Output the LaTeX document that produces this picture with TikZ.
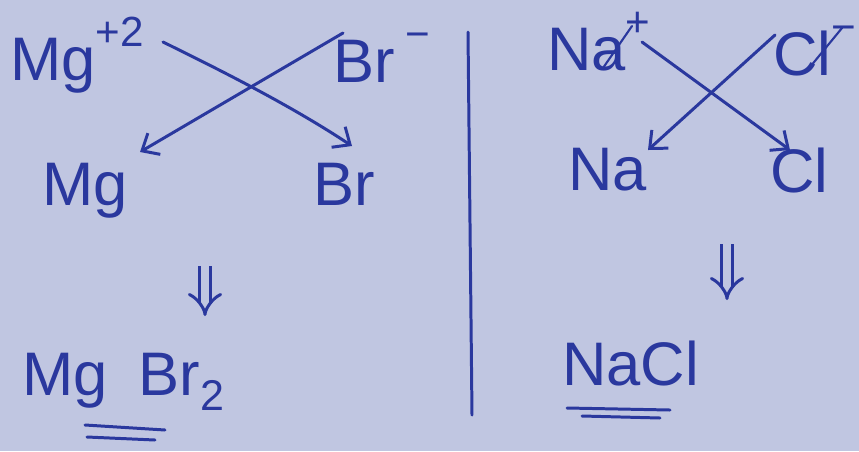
\documentclass[tikz,border=0pt]{standalone}
\usepackage{fontspec}
\setmainfont{Liberation Sans}
\usetikzlibrary{arrows.meta}
\definecolor{paper}{RGB}{192,198,225}
\definecolor{ink}{RGB}{42,56,158}
\newcommand{\chg}[1]{\raisebox{0.55em}{\fontsize{24}{24}\selectfont #1}}
\tikzset{
  chem/.style={ink, anchor=base west, inner sep=0pt, font=\fontsize{35}{40}\selectfont},
  pen/.style={ink, line width=1.7pt, line cap=round, line join=round},
  cross/.style={pen, -{Straight Barb[length=8pt,width=14pt,line width=1.7pt]}},
  yields/.style={ink, line width=1.7pt, double=paper, double distance=5pt, -{Implies}},
}
\begin{document}
\begin{tikzpicture}[x=0.02cm,y=-0.02cm]
  \fill[paper] (0,0) rectangle (859,451);
  % left: magnesium bromide
  \node[chem] (mgion) at (10,80) {Mg\chg{+2}};
  \node[chem] (brion) at (333,82) {Br\,\chg{−}};
  \node[chem] (mgatom) at (42,205) {Mg};
  \node[chem] (bratom) at (313,205) {Br};
  \coordinate (mgtail) at (163,42);
  \coordinate (brhead) at (352,146);
  \coordinate (brtail) at (343,33);
  \coordinate (mghead) at (140,152);
  \draw[cross] (mgtail) .. controls (220,70) and (290,105) .. (brhead);
  \draw[cross] (brtail) -- (mghead);
  \coordinate (mgdown) at (205,266);
  \coordinate (mgup) at (205,316);
  \draw[yields] (mgdown) -- (mgup);
  \node[chem] (mgbr) at (22,395) {Mg\,\,\,Br\textsubscript{2}};
  \draw[pen] (85,425) -- (165,430);
  \draw[pen] (87,437) -- (155,440);
  % divider
  \coordinate (divtop) at (468,32);
  \coordinate (divbot) at (472,415);
  \draw[pen] (divtop) -- (divbot);
  % right: sodium chloride
  \node[chem] (naion) at (547,70) {Na\chg{+}};
  \node[chem] (clion) at (773,75) {Cl\chg{−}};
  \draw[pen, line width=1.2pt] (603,68) -- (632,26);
  \draw[pen, line width=1.2pt] (810,67) -- (842,28);
  \node[chem] (naatom) at (568,190) {Na};
  \node[chem] (clatom) at (770,192) {Cl};
  \coordinate (natail) at (642,42);
  \coordinate (clhead) at (790,150);
  \coordinate (cltail) at (775,35);
  \coordinate (nahead) at (648,150);
  \draw[cross] (natail) -- (clhead);
  \draw[cross] (cltail) -- (nahead);
  \coordinate (nadown) at (727,244);
  \coordinate (naup) at (727,300);
  \draw[yields] (nadown) -- (naup);
  \node[chem] (nacl) at (562,385) {NaCl};
  \draw[pen] (567,408) -- (670,410);
  \draw[pen] (582,416) -- (660,418);
\end{tikzpicture}
\end{document}
